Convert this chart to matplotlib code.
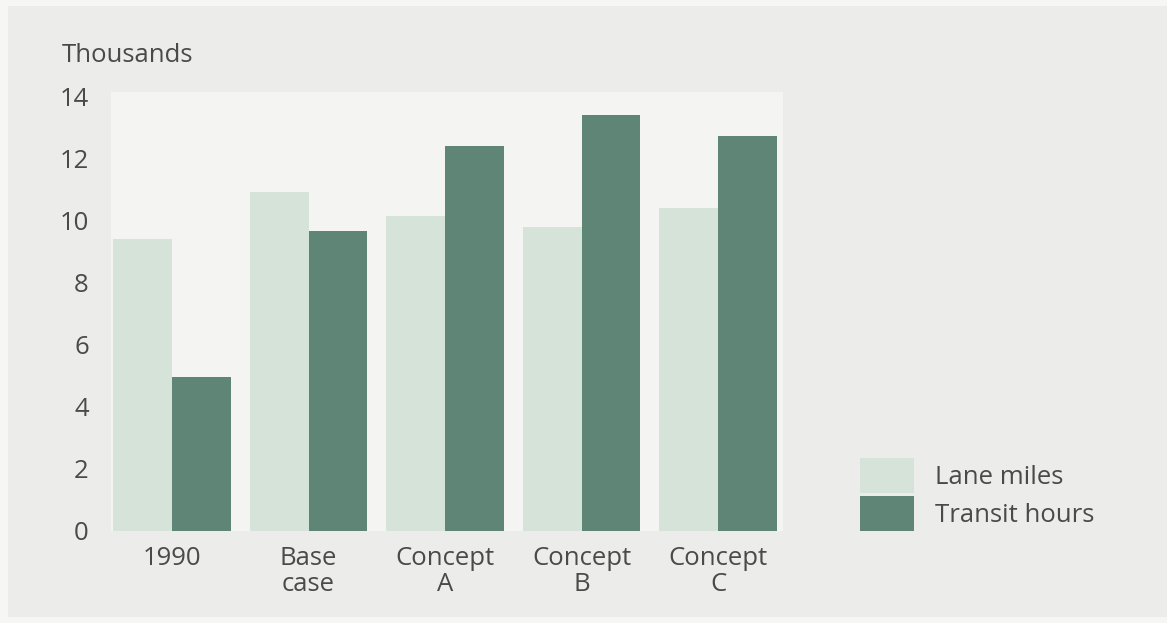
import matplotlib
matplotlib.use("Agg")
import matplotlib.pyplot as plt
import numpy as np
from matplotlib.patches import Rectangle

categories = ["1990", "Base\ncase", "Concept\nA", "Concept\nB", "Concept\nC"]
lane_miles = [9.4, 10.9, 10.15, 9.8, 10.4]
transit_hours = [4.95, 9.65, 12.4, 13.4, 12.7]
series_names = ["Lane miles", "Transit hours"]
yticks = [0, 2, 4, 6, 8, 10, 12, 14]

light_green = "#d5e3d8"
dark_green = "#5f8576"
text_color = "#4a4a4a"

plt.rcParams["font.family"] = ["Open Sans", "DejaVu Sans"]

W, H = 1167, 623
fig = plt.figure(figsize=(W / 100, H / 100), dpi=100)
fig.patch.set_facecolor("#f6f6f4")
# inner panel behind the chart
fig.patches.append(Rectangle((8 / W, 1 - 617 / H), 1, (617 - 6) / H,
                             transform=fig.transFigure, facecolor="#ececea",
                             edgecolor="none", zorder=-5))

left, right, top, bottom = 111, 783, 92, 531
ax = fig.add_axes([left / W, 1 - bottom / H, (right - left) / W, (bottom - top) / H])
ax.set_zorder(1)
ax.set_facecolor("#f4f4f3")

x = np.arange(len(categories))
width = 0.43
ax.bar(x - width / 2, lane_miles, width, color=light_green, label=series_names[0])
ax.bar(x + width / 2, transit_hours, width, color=dark_green, label=series_names[1])

ax.set_xlim(-0.447, 4.476)
ax.set_ylim(0, 14.13)
ax.set_yticks(yticks)
ax.set_yticklabels([str(v) for v in yticks])
ax.set_xticks(x)
ax.set_xticklabels(categories, linespacing=1.05)
ax.tick_params(axis="y", length=0, pad=16, labelsize=18.5, labelcolor=text_color)
ax.tick_params(axis="x", length=0, pad=11, labelsize=18.5, labelcolor=text_color)
for s in ax.spines.values():
    s.set_visible(False)

fig.text(62 / W, 1 - 55 / H, "Thousands", fontsize=18.5, color=text_color,
         ha="left", va="center")

leg = fig.legend(loc="upper left", bbox_to_anchor=(860 / W, 1 - 458 / H),
                 frameon=False, fontsize=18.5, handlelength=2.1, handleheight=1.7,
                 handletextpad=0.82, labelspacing=0.14, borderpad=0, borderaxespad=0)
for t in leg.get_texts():
    t.set_color(text_color)

fig.savefig("out.png", dpi=100, facecolor=fig.get_facecolor())
